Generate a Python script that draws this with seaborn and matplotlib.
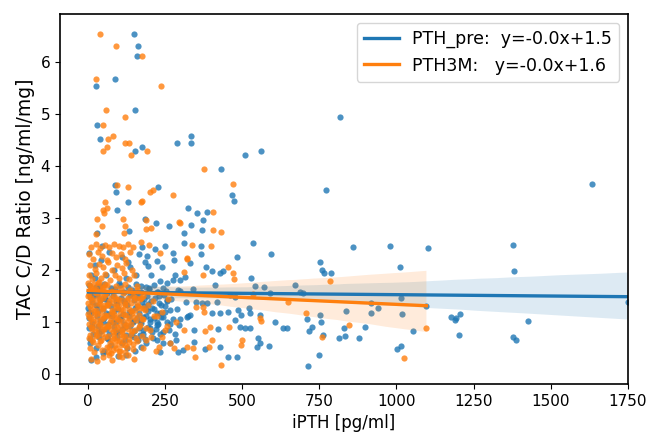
import numpy as np
import pandas as pd
import matplotlib
matplotlib.use("Agg")
import matplotlib.pyplot as plt
import seaborn as sns

# ---------------- data ----------------
# PTH_pre series (blue): (iPTH, TAC C/D ratio)
pre_high = [
    (150, 6.54), (163, 6.31), (158, 6.11), (89, 5.68), (28, 5.53), (152, 5.08), (817, 4.95),
    (31, 4.78), (38, 4.51), (334, 4.58), (289, 4.44), (334, 4.44), (177, 4.36), (152, 4.28),
    (509, 4.22), (561, 4.29), (431, 3.94), (1635, 3.65), (87, 3.63), (90, 3.49), (228, 3.59),
    (468, 3.44), (475, 3.32), (773, 3.54), (131, 3.31), (96, 3.15), (324, 3.19), (353, 3.10),
    (385, 3.12), (373, 2.96), (186, 2.99), (220, 2.91), (334, 2.86), (370, 2.76), (312, 2.71),
    (264, 2.85), (134, 2.75), (30, 2.71), (312, 2.51), (368, 2.47), (536, 2.52), (251, 2.47),
    (177, 2.45), (46, 2.47), (368, 2.31), (483, 2.26), (592, 2.31), (4, 2.32), (276, 2.33),
    (192, 2.27), (223, 2.18), (131, 2.16), (195, 2.08), (330, 2.13), (382, 2.05), (404, 1.99),
    (428, 1.94), (438, 1.99), (530, 1.85), (859, 2.45), (980, 2.46), (1103, 2.43), (1376, 2.49),
    (1380, 1.99), (752, 2.15), (759, 2.00), (765, 1.94), (787, 1.94), (1012, 2.05),
]
pre_mid = [
    (23, 1.84), (233, 1.78), (282, 1.90), (276, 1.81), (298, 1.81), (314, 1.87), (412, 1.71),
    (570, 1.68), (541, 1.69), (671, 1.71), (199, 1.65), (158, 1.58), (223, 1.58), (293, 1.62),
    (341, 1.63), (460, 1.52), (476, 1.49), (590, 1.56), (687, 1.58), (696, 1.56), (1016, 1.47),
    (255, 1.42), (318, 1.39), (352, 1.39), (369, 1.36), (385, 1.36), (420, 1.39), (918, 1.36),
    (940, 1.28), (1097, 1.31), (1749, 1.38), (190, 1.26), (266, 1.23), (233, 1.17), (330, 1.13),
    (401, 1.17), (428, 1.18), (455, 1.20), (487, 1.23), (495, 1.13), (525, 1.17), (523, 1.28),
    (557, 1.13), (838, 1.21), (917, 1.18), (1019, 1.16), (753, 1.13), (1177, 1.10), (1190, 1.04),
    (1205, 1.15), (1193, 1.08), (179, 1.10), (223, 1.01), (266, 0.97), (298, 1.05), (320, 1.10),
    (326, 1.11), (476, 1.04), (607, 1.01), (709, 1.05), (756, 1.01), (1426, 1.02),
]
pre_low = [
    (201, 0.88), (244, 0.81), (282, 0.78), (168, 0.75), (493, 0.90), (509, 0.88), (525, 0.88),
    (422, 0.86), (345, 0.85), (633, 0.89), (644, 0.89), (717, 0.83), (725, 0.91), (831, 0.88),
    (897, 0.91), (1053, 0.83), (1204, 0.76), (762, 0.76), (813, 0.69), (834, 0.73), (877, 0.69),
    (1376, 0.71), (1387, 0.65), (223, 0.65), (266, 0.59), (552, 0.69), (557, 0.59), (343, 0.62),
    (174, 0.53), (428, 0.53), (547, 0.53), (588, 0.54), (379, 0.49), (309, 0.46), (1002, 0.49),
    (1016, 0.54), (233, 0.43), (293, 0.43), (125, 0.37), (50, 0.40), (28, 0.33), (9, 0.27),
    (455, 0.32), (484, 0.32), (750, 0.37), (712, 0.16),
]
pre_core = [
    (5, 1.2), (8, 0.6), (12, 1.9), (15, 0.9), (18, 1.5), (22, 2.1), (25, 0.5), (30, 1.3),
    (35, 0.8), (40, 1.7), (42, 2.2), (48, 1.0), (52, 0.45), (55, 1.45), (60, 1.9), (62, 0.7),
    (68, 1.15), (70, 2.35), (75, 0.55), (78, 1.6), (82, 1.0), (85, 2.0), (90, 0.8), (95, 1.35),
    (98, 0.35), (100, 1.75), (105, 1.1), (110, 0.6), (112, 2.25), (118, 1.4), (120, 0.9),
    (125, 1.85), (128, 0.5), (132, 1.2), (138, 2.05), (140, 0.75), (145, 1.55), (148, 1.0),
    (152, 0.45), (155, 1.9), (160, 1.3), (162, 0.65), (165, 2.3), (170, 1.0), (172, 1.7),
    (178, 0.85), (182, 1.45), (185, 2.15), (188, 0.6), (195, 1.35), (200, 1.05), (205, 1.9),
    (210, 0.7), (215, 1.25), (218, 2.4), (225, 0.95), (230, 1.5), (238, 1.1), (240, 2.05),
    (245, 0.6), (250, 1.3), (258, 1.75), (262, 0.85), (270, 1.45), (275, 1.05), (280, 2.2),
    (285, 0.65), (290, 1.25), (295, 0.95), (300, 1.6),
]
pre_dense = [
    (3, 1.72), (27, 1.68), (51, 1.74), (76, 1.66), (103, 1.71), (131, 1.67), (157, 1.73), (187, 1.68), (213, 1.71), (243, 1.66),
    (11, 1.58), (37, 1.62), (63, 1.56), (89, 1.63), (116, 1.57), (143, 1.61), (171, 1.58), (199, 1.63), (227, 1.57), (252, 1.60),
    (6, 1.48), (31, 1.52), (57, 1.46), (83, 1.51), (109, 1.47), (136, 1.52), (163, 1.48), (191, 1.51), (219, 1.47), (247, 1.52),
    (14, 1.38), (40, 1.42), (66, 1.37), (92, 1.41), (121, 1.36), (149, 1.42), (176, 1.38), (204, 1.41), (232, 1.37), (258, 1.40),
    (2, 1.28), (25, 1.32), (49, 1.27), (74, 1.31), (99, 1.26), (126, 1.32), (153, 1.28), (181, 1.31), (209, 1.27), (237, 1.32),
    (9, 1.18), (34, 1.22), (60, 1.17), (86, 1.21), (113, 1.16), (139, 1.22), (167, 1.18), (195, 1.21), (223, 1.17), (250, 1.20),
    (5, 1.08), (29, 1.12), (54, 1.07), (80, 1.11), (106, 1.06), (133, 1.12), (160, 1.08), (188, 1.11), (216, 1.07), (244, 1.10),
    (13, 0.98), (38, 1.02), (64, 0.97), (91, 1.01), (118, 0.96), (146, 1.02), (173, 0.98), (201, 1.01), (229, 0.97), (255, 1.00),
    (4, 0.88), (32, 0.92), (58, 0.87), (84, 0.91), (111, 0.86), (138, 0.92), (166, 0.88), (194, 0.91), (222, 0.87),
    (16, 0.78), (43, 0.82), (70, 0.77), (97, 0.81), (124, 0.76), (151, 0.82), (179, 0.78), (207, 0.81), (235, 0.77),
    (8, 0.68), (36, 0.72), (65, 0.67), (94, 0.71), (122, 0.66), (150, 0.72), (185, 0.68),
]

# PTH3M series (orange)
m3_high = [
    (38, 6.54), (93, 6.31), (177, 6.11), (26, 5.68), (237, 5.53), (59, 5.08), (121, 4.94),
    (49, 4.78), (83, 4.58), (66, 4.51), (120, 4.44), (132, 4.44), (61, 4.36), (50, 4.28),
    (141, 4.22), (192, 4.28), (377, 3.94), (470, 3.65), (95, 3.63), (131, 3.59), (201, 3.49),
    (210, 3.54), (277, 3.44), (174, 3.31), (55, 3.31), (175, 3.32), (407, 3.12), (61, 3.19),
    (54, 3.10), (50, 3.15), (298, 2.91), (31, 2.99), (114, 2.99), (188, 2.79), (190, 2.96),
    (46, 2.85), (120, 2.85), (118, 2.72), (28, 2.70), (205, 2.80), (296, 2.92), (406, 2.76),
    (432, 2.74), (339, 2.48), (400, 2.46), (322, 2.24), (147, 2.45), (174, 2.53), (198, 2.49),
    (233, 2.32), (320, 2.22),
]
m3_mid = [
    (311, 1.97), (372, 1.90), (455, 2.06), (471, 1.95), (473, 1.82), (784, 1.79), (536, 1.54),
    (649, 1.39), (352, 1.29), (374, 1.29), (376, 1.19), (708, 1.18), (561, 1.03), (557, 1.07),
    (846, 0.95), (1097, 0.89), (458, 0.90), (395, 0.90), (379, 0.83), (312, 0.85), (760, 0.71),
    (498, 0.65), (496, 0.56), (403, 0.65), (392, 0.53), (341, 0.51), (320, 0.53), (347, 0.33),
    (430, 0.17), (1024, 0.31),
]
m3_core = [
    (10, 2.45), (25, 2.5), (40, 2.42), (55, 2.48), (70, 2.45), (85, 2.5), (100, 2.47), (115, 2.44),
    (130, 2.5), (160, 1.62),
    (5, 2.3), (18, 2.22), (33, 2.35), (47, 2.27), (62, 2.2), (78, 2.33), (92, 2.25), (108, 2.3),
    (122, 2.22), (138, 2.35), (155, 1.47), (180, 1.5), (210, 1.4), (260, 1.45),
    (8, 2.1), (22, 2.02), (36, 2.12), (50, 2.05), (65, 2.15), (80, 2.0), (95, 2.1), (110, 2.04),
    (125, 2.14), (142, 2.0), (168, 1.28), (195, 1.32), (240, 1.2),
    (3, 1.9), (15, 1.82), (28, 1.95), (42, 1.85), (57, 1.92), (72, 1.8), (88, 1.9), (102, 1.84),
    (118, 1.95), (133, 1.82), (150, 1.9), (178, 1.05), (225, 1.12), (285, 1.0),
    (6, 1.7), (20, 1.62), (34, 1.75), (48, 1.66), (63, 1.72), (77, 1.6), (91, 1.7), (106, 1.65),
    (120, 1.74), (137, 1.62), (158, 1.7), (190, 0.88), (250, 0.84),
    (2, 1.5), (14, 1.42), (27, 1.55), (41, 1.45), (55, 1.52), (69, 1.4), (84, 1.5), (98, 1.44),
    (113, 1.55), (128, 1.42), (145, 1.5), (170, 1.45), (205, 0.72), (265, 0.6),
    (7, 1.3), (21, 1.22), (35, 1.35), (49, 1.26), (63, 1.32), (78, 1.2), (93, 1.3), (107, 1.25),
    (122, 1.34), (140, 1.22), (162, 1.3), (185, 1.24), (230, 0.52),
    (4, 1.1), (17, 1.02), (30, 1.15), (44, 1.05), (58, 1.12), (73, 1.0), (87, 1.1), (101, 1.04),
    (116, 1.14), (131, 1.02), (150, 1.1), (175, 1.05), (215, 1.12), (280, 0.5),
    (9, 0.9), (23, 0.82), (38, 0.95), (52, 0.86), (66, 0.92), (81, 0.8), (95, 0.9), (110, 0.85),
    (125, 0.94), (142, 0.82), (165, 0.9), (200, 0.85), (255, 0.92),
    (3, 0.7), (16, 0.62), (29, 0.75), (43, 0.66), (57, 0.72), (71, 0.6), (86, 0.7), (100, 0.64),
    (115, 0.74), (135, 0.62), (155, 0.7), (190, 0.66), (240, 0.72),
    (6, 0.5), (20, 0.42), (33, 0.55), (47, 0.46), (61, 0.52), (76, 0.4), (90, 0.5), (105, 0.45),
    (120, 0.55), (145, 0.48), (180, 0.5), (220, 0.45),
    (12, 0.3), (30, 0.25), (50, 0.33), (80, 0.28), (110, 0.32), (150, 0.3),
]
m3_dense = [
    (1, 1.76), (19, 1.74), (37, 1.77), (56, 1.73), (74, 1.46), (93, 1.45), (111, 1.43), (130, 1.47), (150, 1.44), (172, 1.46),
    (9, 1.66), (28, 1.64), (46, 1.67), (65, 1.33), (83, 1.36), (102, 1.35), (120, 1.33), (139, 1.37), (160, 1.34),
    (3, 1.54), (22, 1.57), (40, 1.53), (59, 1.56), (77, 1.24), (96, 1.27), (114, 1.23), (133, 1.26), (152, 1.24), (178, 1.27),
    (12, 1.46), (31, 1.44), (49, 1.47), (68, 1.13), (86, 1.16), (105, 1.15), (123, 1.13), (142, 1.17), (165, 1.14),
    (1, 1.36), (20, 1.34), (39, 1.37), (57, 1.33), (76, 1.06), (94, 1.05), (113, 1.03), (132, 1.07), (155, 1.04),
    (10, 1.26), (28, 1.24), (47, 1.27), (66, 0.93), (84, 0.96), (103, 0.95), (121, 0.93), (140, 0.97), (168, 0.94),
    (2, 1.16), (19, 1.14), (38, 1.17), (56, 1.13), (75, 0.86), (93, 0.85), (112, 0.83), (131, 0.87), (152, 0.84),
    (11, 1.06), (30, 1.04), (48, 1.07), (67, 0.73), (85, 0.76), (104, 0.75), (122, 0.73), (141, 0.77), (175, 0.74),
    (4, 0.96), (22, 0.94), (41, 0.97), (59, 0.93), (78, 0.66), (96, 0.65), (115, 0.63), (134, 0.67), (160, 0.64),
    (13, 0.86), (32, 0.84), (50, 0.87), (69, 0.53), (88, 0.56), (107, 0.55), (126, 0.53), (148, 0.57),
    (7, 0.76), (26, 0.74), (45, 0.77), (64, 0.43), (83, 0.46), (102, 0.45), (121, 0.43),
    (15, 0.66), (40, 0.64), (70, 0.37), (100, 0.35), (130, 0.36),
]

series_names = ["PTH_pre", "PTH3M"]
legend_labels = ["PTH_pre:  y=-0.0x+1.5", "PTH3M:   y=-0.0x+1.6"]
colors = ["#1f77b4", "#ff7f0e"]
x_label = "iPTH [pg/ml]"
y_label = "TAC C/D Ratio [ng/ml/mg]"

pre = np.array(pre_high + pre_mid + pre_low + pre_core + pre_dense, dtype=float)
m3 = np.array(m3_high + m3_mid + m3_core + m3_dense, dtype=float)
frames = {
    "PTH_pre": pd.DataFrame({"iPTH": pre[:, 0], "ratio": pre[:, 1]}),
    "PTH3M": pd.DataFrame({"iPTH": m3[:, 0], "ratio": m3[:, 1]}),
}

# ---------------- plot ----------------
fig = plt.figure(figsize=(6.49, 4.37), dpi=100)
ax = fig.add_axes([60 / 649, 1 - 384 / 437, (628 - 60) / 649, (384 - 14) / 437])

for name, lab, col in zip(series_names, legend_labels, colors):
    sns.regplot(data=frames[name], x="iPTH", y="ratio", ax=ax, color=col, seed=1,
                scatter_kws={"s": 20, "alpha": 0.8, "linewidths": 0},
                line_kws={"lw": 2.4, "label": lab})

ax.set_xlim(-90, 1750)
ax.set_ylim(-0.19, 6.92)
ax.set_xticks([0, 250, 500, 750, 1000, 1250, 1500, 1750])
ax.set_yticks(range(0, 7))
ax.tick_params(labelsize=11)
ax.set_xlabel(x_label, fontsize=12)
ax.set_ylabel(y_label, fontsize=13.5)
for s in ax.spines.values():
    s.set_linewidth(1.2)

ax.legend(handles=ax.get_lines(), loc="upper right", fontsize=12.5)

fig.savefig("out.png", dpi=100)
